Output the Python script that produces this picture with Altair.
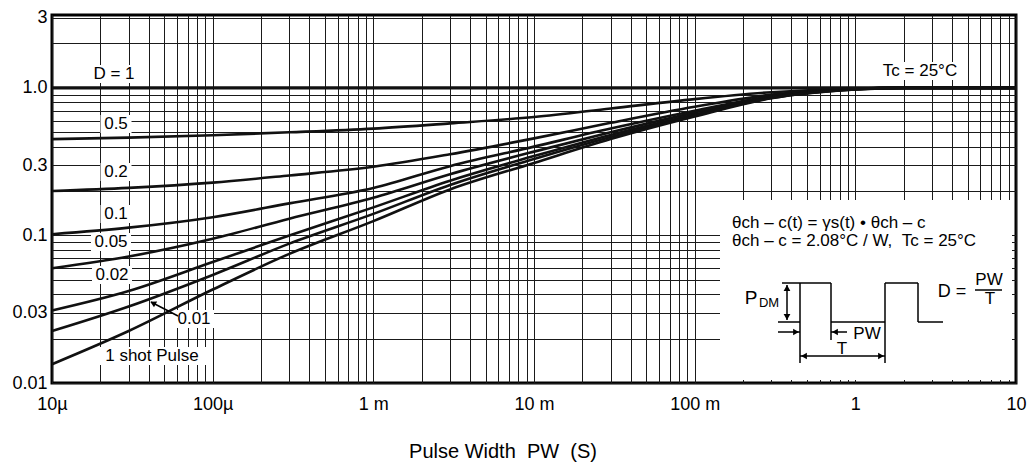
import altair as alt
import pandas as pd
import math

# ---------------- data ----------------
pulse_width = [1e-5, 3e-5, 1e-4, 3e-4, 1e-3, 3e-3, 1e-2, 3e-2, 0.1, 0.3, 1, 2, 10]
curve_names = ["0.5", "0.2", "0.1", "0.05", "0.02", "0.01", "1 shot Pulse"]
r_d05 = [0.450, 0.460, 0.478, 0.500, 0.530, 0.575, 0.635, 0.725, 0.840, 0.935, 0.992, 1.0, 1.0]
r_d02 = [0.200, 0.210, 0.228, 0.255, 0.292, 0.355, 0.455, 0.580, 0.745, 0.900, 0.988, 1.0, 1.0]
r_d01 = [0.102, 0.113, 0.133, 0.165, 0.210, 0.295, 0.400, 0.530, 0.700, 0.880, 0.985, 1.0, 1.0]
r_d005 = [0.060, 0.072, 0.095, 0.130, 0.180, 0.260, 0.370, 0.500, 0.680, 0.870, 0.982, 1.0, 1.0]
r_d002 = [0.031, 0.042, 0.066, 0.100, 0.155, 0.235, 0.345, 0.480, 0.660, 0.860, 0.980, 1.0, 1.0]
r_d001 = [0.0225, 0.033, 0.054, 0.088, 0.140, 0.220, 0.330, 0.465, 0.650, 0.855, 0.978, 1.0, 1.0]
r_single = [0.0134, 0.0225, 0.043, 0.075, 0.125, 0.205, 0.310, 0.450, 0.640, 0.850, 0.975, 1.0, 1.0]
d1_t = [1e-5, 10]
d1_r = [1.0, 1.0]

x_tick_values = [1e-5, 1e-4, 1e-3, 1e-2, 1e-1, 1, 10]
x_tick_labels = ["10µ", "100µ", "1 m", "10 m", "100 m", "1", "10"]
y_tick_values = [0.01, 0.03, 0.1, 0.3, 1, 3]
y_tick_labels = ["0.01", "0.03", "0.1", "0.3", "1.0", "3"]

# ---------------- tables ----------------
series = [r_d05, r_d02, r_d01, r_d005, r_d002, r_d001, r_single]
rows = []
for name, vals in zip(curve_names, series):
    for t, r in zip(pulse_width, vals):
        rows.append({"curve": name, "t": t, "r": r})
for t, r in zip(d1_t, d1_r):
    rows.append({"curve": "1", "t": t, "r": r})
df = pd.DataFrame(rows)

x_grid = [m * 10.0 ** e for e in range(-5, 1) for m in range(1, 10)] + [10.0]
y_grid = [m * 10.0 ** e for e in (-2, -1) for m in range(1, 10)] + [1.0, 2.0, 3.0]

lg = "log(datum.value)/LN10"
x_expr = ""
for v, lab in zip(x_tick_values, x_tick_labels):
    x_expr += f"abs({lg}-({round(math.log10(v))}))<0.01 ? '{lab}' : "
x_expr += "''"
y_expr = ""
for v, lab in zip(y_tick_values, y_tick_labels):
    y_expr += f"abs({lg}-({math.log10(v):.5f}))<0.005 ? '{lab}' : "
y_expr += "''"

FONT = "Liberation Sans"
W, H = 964, 368
NB = "\u00a0"

x_enc = alt.X("t:Q", scale=alt.Scale(type="log", domain=[1e-5, 10], nice=False),
              axis=alt.Axis(values=x_grid, labelExpr=x_expr, grid=True, ticks=False,
                            domain=False, labelFontSize=18, labelFont=FONT,
                            labelPadding=12, labelOverlap=False, labelFlush=False,
                            labelColor="black", gridColor="#1a1a1a", gridWidth=1,
                            gridOpacity=1, title=None))
y_enc = alt.Y("r:Q", scale=alt.Scale(type="log", domain=[0.01, 3.12], nice=False),
              axis=alt.Axis(values=y_grid, labelExpr=y_expr, grid=True, ticks=False,
                            domain=False, labelFontSize=18, labelFont=FONT,
                            labelPadding=5, labelOverlap=False, labelFlush=False,
                            labelColor="black", gridColor="#1a1a1a", gridWidth=1,
                            gridOpacity=1, title=None))

curves = alt.Chart(df).mark_line(interpolate="monotone", color="#111111").encode(
    x=x_enc, y=y_enc, detail="curve:N",
    strokeWidth=alt.condition(alt.datum.curve == "1", alt.value(3.2), alt.value(2.6)),
)

# ---------------- annotations (pixel positions, relative to plot area) ----------------
PX = lambda f: alt.X(f, scale=None, axis=None)
PY = lambda f: alt.Y(f, scale=None, axis=None)

inset = pd.DataFrame([{"x1": 668, "x2": 960, "y1": 185, "y2": 365}])
inset_layer = alt.Chart(inset).mark_rect(fill="white").encode(
    x=PX("x1:Q"), x2="x2:Q", y=PY("y1:Q"), y2="y2:Q")

curve_labels = [
    ("D = 1", 62, 59), ("0.5", 64, 109), ("0.2", 64, 157), ("0.1", 64, 199),
    ("0.05", 59, 227), ("0.02", 60, 260), ("0.01", 142, 304),
    ("1 shot Pulse", 100, 341), ("Tc = 25°C", 868, 56),
]
lab_df = pd.DataFrame([{"text": s, "px": x, "py": y, "fs": 17} for s, x, y in curve_labels])
bg_rows = []
for s, x, y in curve_labels:
    w = len(s) * 17 * 0.53 + 4
    bg_rows.append({"x1": x - w / 2, "x2": x + w / 2, "y1": y - 9, "y2": y + 9})
bg_df = pd.DataFrame(bg_rows)
bg_layer = alt.Chart(bg_df).mark_rect(fill="white").encode(
    x=PX("x1:Q"), x2="x2:Q", y=PY("y1:Q"), y2="y2:Q")

center_texts = lab_df.to_dict("records") + [
    {"text": "P", "px": 699, "py": 283, "fs": 19},
    {"text": "DM", "px": 717, "py": 288, "fs": 13},
    {"text": "PW", "px": 815, "py": 319, "fs": 17},
    {"text": "T", "px": 790, "py": 334, "fs": 17},
    {"text": "D =", "px": 900, "py": 277, "fs": 18},
    {"text": "PW", "px": 937, "py": 265, "fs": 17},
    {"text": "T", "px": 938, "py": 284, "fs": 17},
    {"text": f"Pulse Width{NB}{NB}PW{NB}{NB}(S)", "px": 451, "py": 437, "fs": 20},
]
ct_layer = alt.Chart(pd.DataFrame(center_texts)).mark_text(
    font=FONT, color="black", align="center", baseline="middle").encode(
    x=PX("px:Q"), y=PY("py:Q"), text="text:N", size=alt.Size("fs:Q", scale=None, legend=None))

left_texts = [
    {"text": "θch – c(t) = γs(t) • θch – c", "px": 680, "py": 208, "fs": 17},
    {"text": f"θch – c = 2.08°C / W,{NB}{NB}Tc = 25°C", "px": 680, "py": 226, "fs": 17},
]
lt_layer = alt.Chart(pd.DataFrame(left_texts)).mark_text(
    font=FONT, color="black", align="left", baseline="middle").encode(
    x=PX("px:Q"), y=PY("py:Q"), text="text:N", size=alt.Size("fs:Q", scale=None, legend=None))

segments = [
    (726, 307, 748, 307), (748, 307, 748, 268), (748, 268, 779, 268), (779, 268, 779, 307),
    (779, 307, 833, 307), (833, 307, 833, 268), (833, 268, 866, 268), (866, 268, 866, 307),
    (866, 307, 891, 307),
    (735, 270, 735, 305), (730, 268, 748, 268),
    (726, 317, 748, 317), (779, 317, 795, 317), (748, 341, 833, 341),
    (748, 307, 748, 348), (779, 307, 779, 325), (833, 307, 833, 348),
    (923, 275, 950, 275),
    (126, 301, 99, 287),
]
seg_df = pd.DataFrame([{"x1": a, "y1": b, "x2": c, "y2": d} for a, b, c, d in segments])
seg_layer = alt.Chart(seg_df).mark_rule(color="black", strokeWidth=1.5).encode(
    x=PX("x1:Q"), y=PY("y1:Q"), x2="x2:Q", y2="y2:Q")

heads = [
    (735, 273, 0), (735, 302, 180), (744, 317, 90), (783, 317, 270),
    (752, 341, 270), (829, 341, 90), (101, 288, 298),
]
head_df = pd.DataFrame([{"px": x, "py": y, "ang": a} for x, y, a in heads])
head_layer = alt.Chart(head_df).mark_point(
    shape="triangle-up", filled=True, color="black", size=45, opacity=1).encode(
    x=PX("px:Q"), y=PY("py:Q"), angle=alt.Angle("ang:Q", scale=None))

chart = alt.layer(
    curves, inset_layer, bg_layer, seg_layer, head_layer, ct_layer, lt_layer
).resolve_scale(x="independent", y="independent").properties(
    width=W, height=H,
    autosize=alt.AutoSizeParams(type="none"),
    padding={"left": 52, "top": 15, "right": 20, "bottom": 87},
    background="white",
).configure_view(stroke="black", strokeWidth=3)

chart.save("out.html", embed_options={"renderer": "svg", "actions": False})
